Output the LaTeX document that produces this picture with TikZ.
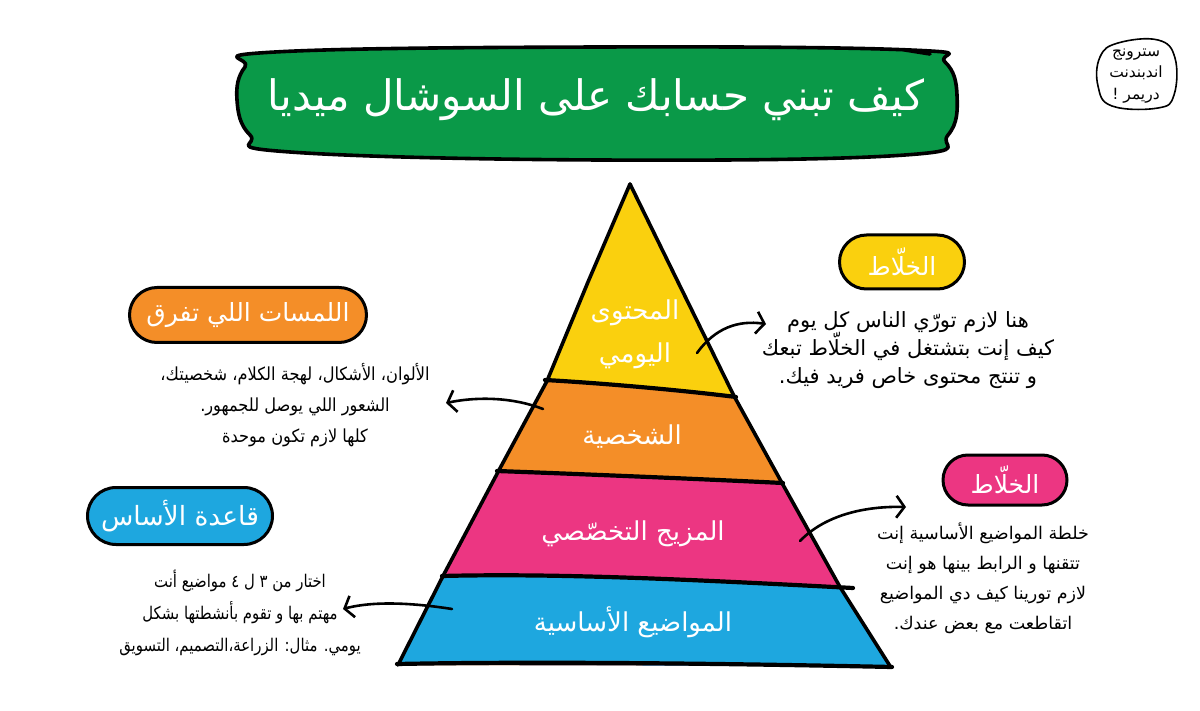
\documentclass[tikz,border=0pt]{standalone}
\usepackage{fontspec}
\TeXXeTstate=1
\newfontfamily\arabicfont[Script=Arabic]{DejaVu Sans}
\newfontfamily\arabicnarrow[Script=Arabic,FakeStretch=0.9]{DejaVu Sans}
\newfontfamily\arabicnarrower[Script=Arabic,FakeStretch=0.85]{DejaVu Sans}
\usetikzlibrary{arrows.meta,shapes.misc}
\definecolor{pyellow}{RGB}{250,208,14}
\definecolor{porange}{RGB}{244,142,40}
\definecolor{ppink}{RGB}{236,54,130}
\definecolor{pblue}{RGB}{30,167,223}
\definecolor{pgreen}{RGB}{10,153,72}
\newcommand{\rtl}[1]{\beginR #1\endR}
\tikzset{
  outline/.style={line width=3.6pt, line join=round, line cap=round},
  pill/.style={rounded rectangle, draw=black, line width=3pt, inner sep=0pt,
    text=white, font=\arabicfont\fontsize{25}{28}\selectfont},
  bandtext/.style={text=white, font=\arabicfont\fontsize{26}{43}\selectfont, align=center, inner sep=0pt},
  bodytext/.style={text=black, font=\arabicfont\fontsize{18}{28}\selectfont, align=center, inner sep=0pt},
  sketcharrow/.style={line width=2.6pt, line cap=round,
    -{Straight Barb[length=8pt,width=22pt,line width=2.6pt]}},
}
\begin{document}
\begin{tikzpicture}[x=1pt,y=-1pt]
\useasboundingbox (0,0) rectangle (1200,711);
\fill[white] (0,0) rectangle (1200,711);

% title banner
\draw[outline, fill=pgreen] plot[smooth cycle, tension=0.7] coordinates
  {(275,52) (600,47) (910,50) (945,62) (957,95) (948,135) (905,155) (600,160) (290,152) (250,135) (237,100) (245,67)};
\draw[outline] (930,54) -- (905,50);
\node[font=\arabicfont\fontsize{42}{48}\selectfont, text=white, inner sep=0pt] (title) at (596,100)
  {\rtl{كيف تبني حسابك على السوشال ميديا}};

% logo
\draw[line width=1.6pt] plot[smooth cycle, tension=0.7] coordinates
  {(1118,43) (1158,40) (1175,58) (1174,95) (1158,108) (1112,106) (1098,86) (1100,57)};
\node[font=\arabicfont\fontsize{15.5}{21.5}\selectfont, align=center, inner sep=0pt] (logo) at (1136,76)
  {\rtl{سترونج}\\\rtl{اندبندنت}\\\rtl{دريمر !}};

% pyramid bands
\begin{scope}
\clip (630,184) -- (588,282) -- (547,381) -- (498,472) -- (443,576) -- (398,665)
  -- (890,666) -- (840,587) -- (782,483) -- (734,396) -- (678,282) -- cycle;
\fill[pyellow] (380,170) rectangle (910,690);
\fill[porange] (380,374) -- (545,380) .. controls (600,383) and (680,390) .. (736,397)
  -- (910,412) -- (910,690) -- (380,690) -- cycle;
\fill[ppink] (380,470) -- (497,471) .. controls (580,474) and (700,479) .. (783,483)
  -- (910,486) -- (910,690) -- (380,690) -- cycle;
\fill[pblue] (380,576) -- (442,576) .. controls (560,573) and (700,580) .. (853,588)
  -- (910,590) -- (910,690) -- (380,690) -- cycle;
\end{scope}
\draw[outline] (630,184) -- (588,282) -- (547,381) -- (498,472) -- (443,576) -- (398,665);
\draw[outline] (630,184) -- (678,282) -- (734,396) -- (782,483) -- (840,587) -- (890,666);
\draw[outline, line width=4.2pt] (545,380) .. controls (600,383) and (680,390) .. (736,397);
\draw[outline, line width=4.2pt] (497,471) .. controls (580,474) and (700,479) .. (783,483);
\draw[outline, line width=4.2pt] (442,576) .. controls (560,573) and (700,580) .. (853,588);
\draw[outline, line width=4.2pt] (397,664) .. controls (550,661) and (750,664) .. (892,667);

% band labels
\node[bandtext] (daily) at (635,334) {\rtl{المحتوى}\\\rtl{اليومي}};
\node[bandtext] (persona) at (632,437) {\rtl{الشخصية}};
\node[bandtext] (mix) at (633,534) {\rtl{المزيج التخصّصي}};
\node[bandtext] (base) at (633,622) {\rtl{المواضيع الأساسية}};

% pills
\node[pill, fill=pyellow, minimum width=125pt, minimum height=54pt] (ypill) at (902,262) {\rtl{الخلّاط}};
\node[pill, fill=ppink, minimum width=124pt, minimum height=50pt] (ppill) at (1005,480) {\rtl{الخلّاط}};
\node[pill, fill=porange, minimum width=237pt, minimum height=55pt] (opill) at (248,315) {\rtl{اللمسات اللي تفرق}};
\node[pill, fill=pblue, minimum width=185pt, minimum height=57pt, font=\arabicfont\fontsize{26.5}{30}\selectfont] (bpill) at (180,516) {\rtl{قاعدة الأساس}};

% body texts
\node[bodytext, font=\arabicfont\fontsize{21}{28}\selectfont] (ytext) at (908,350)
  {\rtl{هنا لازم تورّي الناس كل يوم}\\\rtl{كيف إنت بتشتغل في الخلّاط تبعك}\\\rtl{و تنتج محتوى خاص فريد فيك.}};
\node[bodytext, font=\arabicnarrow\fontsize{18}{31}\selectfont] (otext) at (295,405)
  {\rtl{الألوان، الأشكال، لهجة الكلام، شخصيتك،}\\\rtl{الشعور اللي يوصل للجمهور.}\\\rtl{كلها لازم تكون موحدة}};
\node[bodytext, font=\arabicnarrower\fontsize{17.5}{32}\selectfont] (btext) at (240,613)
  {\rtl{اختار من ٣ ل ٤ مواضيع أنت}\\\rtl{مهتم بها و تقوم بأنشطتها بشكل}\\\rtl{يومي. مثال: الزراعة،التصميم، التسويق}};
\node[bodytext, font=\arabicfont\fontsize{17.5}{30}\selectfont] (ptext) at (983,578)
  {\rtl{خلطة المواضيع الأساسية إنت}\\\rtl{تتقنها و الرابط بينها هو إنت}\\\rtl{لازم تورينا كيف دي المواضيع}\\\rtl{اتقاطعت مع بعض عندك.}};

% arrows
\coordinate (yA) at (697,353); \coordinate (yB) at (766,324);
\coordinate (oA) at (543,409); \coordinate (oB) at (446,403);
\coordinate (pA) at (800,541); \coordinate (pB) at (906,507);
\coordinate (bA) at (452,609); \coordinate (bB) at (343,609);
\draw[sketcharrow] (yA) .. controls (715,328) and (738,320) .. (yB);
\draw[sketcharrow] (oA) .. controls (515,398) and (480,396) .. (oB);
\draw[sketcharrow] (pA) .. controls (825,515) and (865,506) .. (pB);
\draw[sketcharrow] (bA) .. controls (420,604) and (377,600) .. (bB);
\end{tikzpicture}
\end{document}
